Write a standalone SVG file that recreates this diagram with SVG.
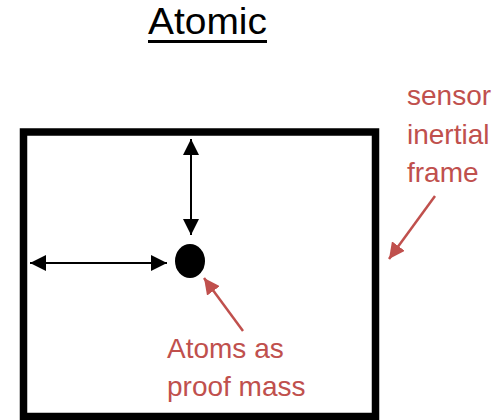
<svg xmlns="http://www.w3.org/2000/svg" width="502" height="420" viewBox="0 0 502 420">
<style>
.title{font-family:"Liberation Sans",Arial,sans-serif;font-size:36px;fill:#000}
.lbl{font-family:"Liberation Sans",Arial,sans-serif;font-size:28px;fill:#C0504D}
.blk{stroke:#000;stroke-width:2;fill:none}
.red{stroke:#C0504D;stroke-width:2.5;fill:none}
</style>
<defs>
<marker id="ah" viewBox="0 0 10 10" refX="10" refY="5" markerWidth="16" markerHeight="16" markerUnits="userSpaceOnUse" orient="auto-start-reverse">
<path d="M0,0 L10,5 L0,10 z" fill="#000"/>
</marker>
<marker id="rh" viewBox="0 0 10 10" refX="10" refY="5" markerWidth="16" markerHeight="16" markerUnits="userSpaceOnUse" orient="auto">
<path d="M0,0 L10,5 L0,10 z" fill="#C0504D"/>
</marker>
</defs>
<rect width="502" height="420" fill="#fff"/>
<g id="title">
<text class="title" x="148" y="34" textLength="119" lengthAdjust="spacingAndGlyphs">Atomic</text>
<rect x="148" y="40" width="119" height="3" fill="#000"/>
</g>
<g id="frame">
<rect x="23.5" y="132" width="352" height="284.5" fill="none" stroke="#000" stroke-width="7.5"/>
</g>
<g id="mass">
<ellipse cx="190" cy="261" rx="15" ry="17" fill="#000"/>
</g>
<g id="label-frame">
<text class="lbl" x="407" y="105">sensor</text>
<text class="lbl" x="407" y="143.5">inertial</text>
<text class="lbl" x="407" y="182">frame</text>
</g>
<g id="label-mass">
<text class="lbl" x="167" y="358">Atoms as</text>
<text class="lbl" x="167" y="396">proof mass</text>
</g>
<g id="connectors">
<line class="blk" x1="191" y1="139" x2="191" y2="235" marker-start="url(#ah)" marker-end="url(#ah)"/>
<line class="blk" x1="30" y1="263" x2="167" y2="263" marker-start="url(#ah)" marker-end="url(#ah)"/>
<line class="red" x1="243" y1="331" x2="204" y2="278" marker-end="url(#rh)"/>
<line class="red" x1="435" y1="196" x2="389" y2="259" marker-end="url(#rh)"/>
</g>
</svg>
